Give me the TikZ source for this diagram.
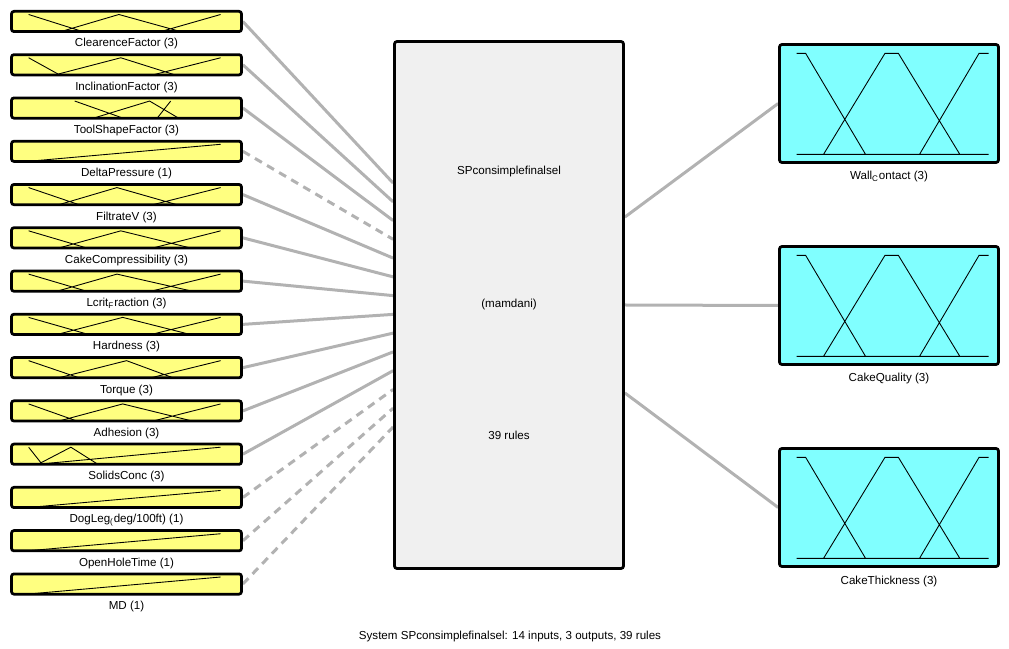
\documentclass[tikz,border=0pt]{standalone}
\usepackage{fontspec}
\setmainfont{Liberation Sans}
\usetikzlibrary{calc,backgrounds}

\definecolor{inyellow}{RGB}{255,255,128}
\definecolor{outcyan}{RGB}{128,255,255}
\definecolor{sysgray}{RGB}{240,240,240}
\definecolor{wiregray}{RGB}{178,178,178}

% membership functions drawn inside a variable box (unit square coordinates)
\newcommand{\mfplot}[4]{%
  \begin{scope}[shift={($(#1.south west)+(#2)$)},x=38.4mm,y=#3]
    \draw[mf] #4;
  \end{scope}}

\begin{document}
\begin{tikzpicture}[
  font=\fontsize{6.6}{8}\selectfont,
  varbox/.style={draw,line width=0.55mm,rounded corners=0.5mm,inner sep=0pt},
  inbox/.style={varbox,fill=inyellow,minimum width=46mm,minimum height=4.05mm},
  outbox/.style={varbox,fill=outcyan,minimum width=43.8mm,minimum height=23.6mm},
  sysbox/.style={varbox,fill=sysgray,minimum width=45.8mm,minimum height=105.4mm},
  mf/.style={line width=0.5pt,line join=miter},
  link/.style={draw=wiregray,line width=0.6mm},
  optlink/.style={link,dash pattern=on 1.6mm off 1.2mm}
]
  \useasboundingbox (0,0) rectangle (201.8mm,129.6mm);

  % rule block
  \node[sysbox] (sys) at (101.8mm,68.6mm) {};
  \node (sys-name)  at ($(sys.center)+(0,26.6mm)$) {SPconsimplefinalsel};
  \node (sys-type)  at (sys.center) {(mamdani)};
  \node (sys-rules) at ($(sys.center)+(0,-26mm)$) {39 rules};

  % inputs
  \foreach \txt [count=\i] in {ClearenceFactor (3),InclinationFactor (3),
      ToolShapeFactor (3),DeltaPressure (1),FiltrateV (3),
      CakeCompressibility (3),Lcrit\textsubscript{F}raction (3),Hardness (3),
      Torque (3),Adhesion (3),SolidsConc (3),
      DogLeg\textsubscript{(}deg/100ft) (1),OpenHoleTime (1),MD (1)} {
    \node[inbox] (in\i) at (25.3mm,{125.3mm-8.654mm*(\i-1)}) {};
    \node (in\i-lbl) at ($(in\i.center)+(0,-4.5mm)$) {\txt};
    \pgfmathsetmacro\f{0.2698+0.03542*(\i-1)}
    \coordinate (sys-in\i) at ($(sys.north west)!\f!(sys.south west)$);
  }

  % outputs
  \foreach \txt [count=\j] in {Wall\textsubscript{C}ontact (3),CakeQuality (3),
      CakeThickness (3)} {
    \node[outbox] (out\j) at (177.8mm,{108.9mm-40.4mm*(\j-1)}) {};
    \node (out\j-lbl) at ($(out\j.center)+(0,-14.7mm)$) {\txt};
    \pgfmathsetmacro\f{0.334+0.166*(\j-1)}
    \coordinate (sys-out\j) at ($(sys.north east)!\f!(sys.south east)$);
  }

  \begin{pgfonlayer}{background}
    \foreach \i in {1,2,3,5,6,7,8,9,10,11}
      \draw[link] (in\i.east) -- (sys-in\i);
    \foreach \i in {4,12,13,14}
      \draw[optlink] (in\i.east) -- (sys-in\i);
    \foreach \j in {1,2,3}
      \draw[link] (sys-out\j) -- (out\j.west);
  \end{pgfonlayer}

  \mfplot{in1}{3.7mm,0.3mm}{3.4mm}{(0,0)--(1,0) (0,1)--(.28,0) (.17,0)--(.47,1)--(.79,0) (.69,0)--(1,1)}
  \mfplot{in2}{3.7mm,0.3mm}{3.4mm}{(0,0)--(1,0) (0,1)--(.16,0) (.14,0)--(.48,1)--(.76,0) (.65,0)--(1,1)}
  \mfplot{in3}{3.7mm,0.3mm}{3.4mm}{(0,0)--(1,0) (.24,1)--(.49,0) (.34,0)--(.63,1)--(.78,0) (.67,0)--(.74,1)}
  \mfplot{in4}{3.7mm,0.3mm}{3.4mm}{(0,0)--(1,0) (0,0)--(1,1)}
  \mfplot{in5}{3.7mm,0.3mm}{3.4mm}{(0,0)--(1,0) (0,1)--(.26,0) (.16,0)--(.46,1)--(.77,0) (.65,0)--(1,1)}
  \mfplot{in6}{3.7mm,0.3mm}{3.4mm}{(0,0)--(1,0) (0,1)--(.30,0) (.16,0)--(.48,1)--(.84,0) (.65,0)--(1,1)}
  \mfplot{in7}{3.7mm,0.3mm}{3.4mm}{(0,0)--(1,0) (0,1)--(.30,0) (.15,0)--(.46,1)--(.85,0) (.64,0)--(1,1)}
  \mfplot{in8}{3.7mm,0.3mm}{3.4mm}{(0,0)--(1,0) (0,1)--(.31,0) (.15,0)--(.49,1)--(.84,0) (.64,0)--(1,1)}
  \mfplot{in9}{3.7mm,0.3mm}{3.4mm}{(0,0)--(1,0) (0,1)--(.26,0) (.16,0)--(.51,1)--(.75,0) (.64,0)--(1,1)}
  \mfplot{in10}{3.7mm,0.3mm}{3.4mm}{(0,0)--(1,0) (0,1)--(.25,0) (.16,0)--(.49,1)--(.85,0) (.65,0)--(1,1)}
  \mfplot{in11}{3.7mm,0.3mm}{3.4mm}{(0,0)--(1,0) (0,1)--(.07,0) (.05,0)--(.22,1)--(.36,0) (.05,0)--(1,1)}
  \foreach \i in {12,13,14}{
    \mfplot{in\i}{3.7mm,0.3mm}{3.4mm}{(0,0)--(1,0) (0,0)--(1,1)}
  }

  \foreach \j in {1,2,3}{
    \mfplot{out\j}{3.7mm,1.9mm}{20.2mm}{(0,0)--(1,0) (0,1)--(.047,1)--(.359,0)
      (.14,0)--(.46,1)--(.53,1)--(.85,0) (.64,0)--(.95,1)--(1,1)}
  }

  \node (caption) at (102mm,2.4mm)
    {System SPconsimplefinalsel: 14 inputs, 3 outputs, 39 rules};
\end{tikzpicture}
\end{document}
